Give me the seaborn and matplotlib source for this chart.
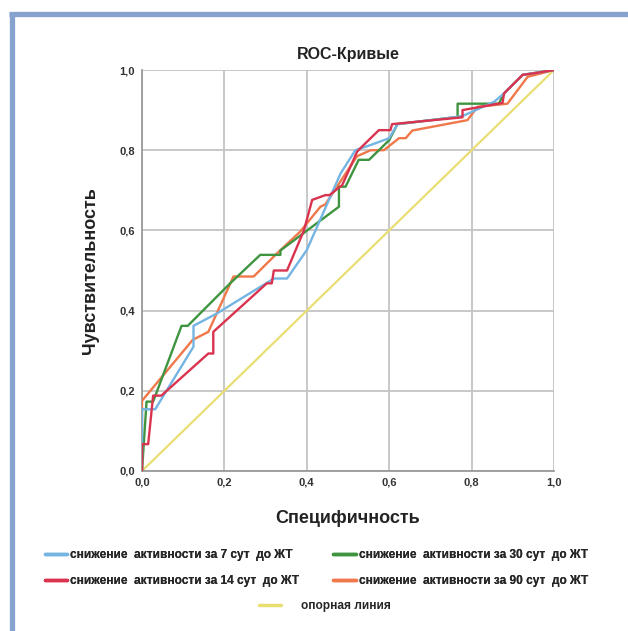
import matplotlib
matplotlib.use("Agg")
import matplotlib.pyplot as plt
from matplotlib.lines import Line2D
import seaborn as sns
import pandas as pd

# ---- data ----
series_names = [
    "снижение  активности за 7 сут  до ЖТ",
    "снижение  активности за 14 сут  до ЖТ",
    "снижение  активности за 30 сут  до ЖТ",
    "снижение  активности за 90 сут  до ЖТ",
]
ref_name = "опорная линия"

fpr_7 = [0, 0, 0.032, 0.125, 0.125, 0.182, 0.32, 0.352, 0.40, 0.482, 0.518, 0.555, 0.60, 0.62, 0.766, 0.782, 0.855, 0.879, 0.924, 1.0]
tpr_7 = [0, 0.154, 0.154, 0.31, 0.362, 0.393, 0.48, 0.48, 0.551, 0.742, 0.80, 0.813, 0.83, 0.865, 0.883, 0.887, 0.921, 0.942, 0.988, 1.0]

fpr_14 = [0, 0, 0.015, 0.027, 0.047, 0.161, 0.173, 0.173, 0.303, 0.315, 0.32, 0.352, 0.393, 0.413, 0.445, 0.455, 0.486, 0.522, 0.53, 0.575, 0.603, 0.607, 0.778, 0.778, 0.875, 0.879, 0.924, 0.94, 1.0]
tpr_14 = [0, 0.067, 0.067, 0.188, 0.188, 0.293, 0.293, 0.347, 0.468, 0.468, 0.50, 0.50, 0.60, 0.676, 0.688, 0.688, 0.713, 0.796, 0.805, 0.85, 0.85, 0.865, 0.882, 0.90, 0.918, 0.942, 0.988, 0.99, 1.0]

fpr_30 = [0, 0.011, 0.027, 0.096, 0.111, 0.214, 0.287, 0.336, 0.336, 0.457, 0.478, 0.478, 0.494, 0.526, 0.551, 0.60, 0.62, 0.766, 0.766, 0.866, 0.879, 0.924, 1.0]
tpr_30 = [0, 0.173, 0.173, 0.362, 0.362, 0.468, 0.539, 0.539, 0.55, 0.643, 0.659, 0.709, 0.709, 0.776, 0.776, 0.825, 0.865, 0.883, 0.916, 0.916, 0.942, 0.988, 1.0]

fpr_90 = [0, 0, 0.123, 0.161, 0.222, 0.271, 0.328, 0.384, 0.433, 0.445, 0.522, 0.555, 0.587, 0.624, 0.64, 0.656, 0.79, 0.814, 0.887, 0.936, 1.0]
tpr_90 = [0, 0.175, 0.327, 0.347, 0.485, 0.485, 0.543, 0.597, 0.659, 0.665, 0.785, 0.80, 0.80, 0.83, 0.83, 0.849, 0.875, 0.908, 0.916, 0.983, 1.0]

ref_x = [0, 1]
ref_y = [0, 1]

tick_vals = [0, 0.2, 0.4, 0.6, 0.8, 1.0]
tick_labels = ["0,0", "0,2", "0,4", "0,6", "0,8", "1,0"]

colors = ["#74b4e2", "#d9334f", "#3f9440", "#f0774a"]
ref_color = "#e9de72"

# ---- build long table ----
rows = []
for name, xs, ys in zip(series_names,
                        [fpr_7, fpr_14, fpr_30, fpr_90],
                        [tpr_7, tpr_14, tpr_30, tpr_90]):
    for i, (x, y) in enumerate(zip(xs, ys)):
        rows.append({"curve": name, "order": i, "x": x, "y": y})
df = pd.DataFrame(rows)
ref_df = pd.DataFrame({"x": ref_x, "y": ref_y})

sns.set_style("white")
plt.rcParams["font.family"] = ["Liberation Sans", "DejaVu Sans"]

fig = plt.figure(figsize=(6.28, 6.31), dpi=100)
ax = fig.add_axes([142 / 628, 1 - 471 / 631, 412 / 628, 401 / 631])

sns.lineplot(data=ref_df, x="x", y="y", ax=ax, color=ref_color, lw=1.6,
             legend=False, zorder=2)
draw_order = [3, 2, 0, 1]
for k in draw_order:
    sub = df[df["curve"] == series_names[k]]
    sns.lineplot(data=sub, x="x", y="y", ax=ax, color=colors[k], lw=1.7,
                 sort=False, estimator=None, legend=False, zorder=3)

ax.set_xlim(0, 1)
ax.set_ylim(0, 1)
ax.set_xticks(tick_vals)
ax.set_xticklabels(tick_labels)
ax.set_yticks(tick_vals)
ax.set_yticklabels(tick_labels)
ax.grid(True, color="#c4c4c4", lw=1.3)
ax.set_axisbelow(True)
ax.tick_params(length=0, pad=5, labelsize=8, colors="#333333")
for lab in ax.get_xticklabels() + ax.get_yticklabels():
    lab.set_fontweight("bold")
for s in ["top", "right"]:
    ax.spines[s].set_visible(False)
for s in ["left", "bottom"]:
    ax.spines[s].set_color("#9a9a9a")
    ax.spines[s].set_linewidth(1.3)

ax.set_title("ROC-Кривые", fontsize=11.5, fontweight="bold", pad=8, color="#222222")
ax.set_xlabel("Специфичность", fontsize=13, fontweight="bold", labelpad=16, color="#222222")
ax.set_ylabel("Чувствительность", fontsize=13, fontweight="bold", labelpad=15, color="#222222")

# legend
handles = [Line2D([0], [0], color=c, lw=2.5) for c in colors]
leg1 = fig.legend(handles, series_names,
                  ncol=2, loc="upper left", bbox_to_anchor=(34 / 628, 1 - 538 / 631),
                  frameon=False, prop={"size": 8.6, "weight": "bold"},
                  handlelength=1.9, handletextpad=0.25, columnspacing=2.8,
                  labelspacing=1.2)
leg2 = fig.legend([Line2D([0], [0], color=ref_color, lw=2.5)], [ref_name],
                  loc="center left", bbox_to_anchor=(248 / 628, 1 - 606 / 631),
                  frameon=False, prop={"size": 8.6, "weight": "bold"},
                  handlelength=1.9, handletextpad=1.6)
fig.add_artist(leg1)

# decorative frame
fig.add_artist(Line2D([9 / 628, 1.0], [1 - 14 / 631, 1 - 14 / 631],
                      transform=fig.transFigure, color="#86a2cf", lw=3.8,
                      solid_capstyle="butt"))
fig.add_artist(Line2D([12 / 628, 12 / 628], [0, 1 - 12 / 631],
                      transform=fig.transFigure, color="#86a2cf", lw=3.8,
                      solid_capstyle="butt"))

fig.savefig("out.png", dpi=100, facecolor="white")
